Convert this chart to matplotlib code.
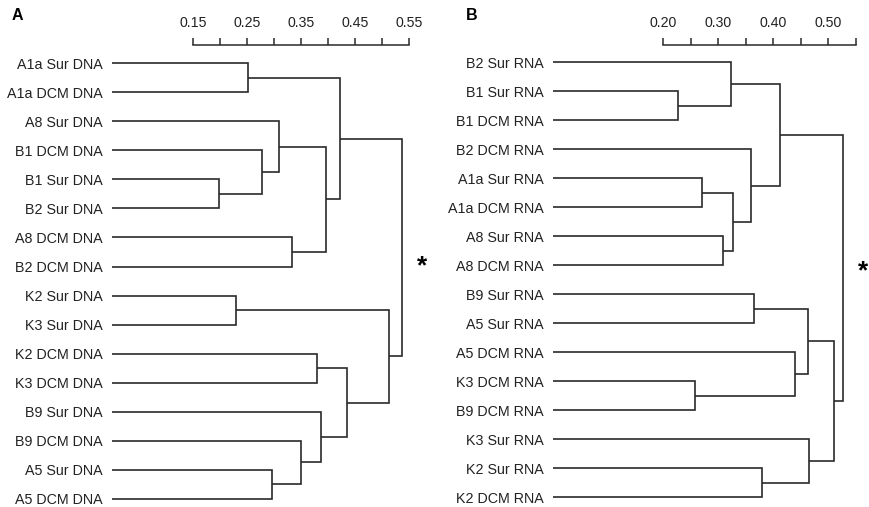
import matplotlib
matplotlib.use("Agg")
import matplotlib.pyplot as plt
import numpy as np

plt.rcParams['font.family'] = ['Liberation Sans', 'DejaVu Sans']

# ---------------- data ----------------
leaves_a = ["A1a Sur DNA", "A1a DCM DNA", "A8 Sur DNA", "B1 DCM DNA", "B1 Sur DNA",
            "B2 Sur DNA", "A8 DCM DNA", "B2 DCM DNA", "K2 Sur DNA", "K3 Sur DNA",
            "K2 DCM DNA", "K3 DCM DNA", "B9 Sur DNA", "B9 DCM DNA", "A5 Sur DNA",
            "A5 DCM DNA"]
# merges: (child1, child2, height); new nodes numbered from len(leaves)
merges_a = [(4, 5, 0.198), (0, 1, 0.251), (3, 16, 0.278), (2, 18, 0.308),
            (6, 7, 0.333), (19, 20, 0.396), (17, 21, 0.422), (8, 9, 0.229),
            (14, 15, 0.296), (13, 24, 0.350), (10, 11, 0.379), (12, 25, 0.386),
            (26, 27, 0.435), (23, 28, 0.512), (22, 29, 0.536)]

leaves_b = ["B2 Sur RNA", "B1 Sur RNA", "B1 DCM RNA", "B2 DCM RNA", "A1a Sur RNA",
            "A1a DCM RNA", "A8 Sur RNA", "A8 DCM RNA", "B9 Sur RNA", "A5 Sur RNA",
            "A5 DCM RNA", "K3 DCM RNA", "B9 DCM RNA", "K3 Sur RNA", "K2 Sur RNA",
            "K2 DCM RNA"]
merges_b = [(1, 2, 0.227), (0, 16, 0.323), (4, 5, 0.270), (6, 7, 0.308),
            (18, 19, 0.326), (3, 20, 0.360), (17, 21, 0.412), (11, 12, 0.257),
            (8, 9, 0.365), (10, 23, 0.440), (24, 25, 0.463), (14, 15, 0.379),
            (13, 27, 0.465), (26, 28, 0.510), (22, 29, 0.526)]

ticks_a = [0.15, 0.20, 0.25, 0.30, 0.35, 0.40, 0.45, 0.50, 0.55]
ticklabels_a = ["0.15", "", "0.25", "", "0.35", "", "0.45", "", "0.55"]
ticks_b = [0.20, 0.25, 0.30, 0.35, 0.40, 0.45, 0.50, 0.55]
ticklabels_b = ["0.20", "", "0.30", "", "0.40", "", "0.50", ""]

# ---------------- figure ----------------
W, H = 870, 507
fig = plt.figure(figsize=(W / 100, H / 100), dpi=100)
LC = "#2a2a2a"


def px_axes(left, top, right, bottom):
    return fig.add_axes([left / W, 1 - bottom / H, (right - left) / W, (bottom - top) / H])


def draw_tree(ax, leaves, merges):
    n = len(leaves)
    ypos = {i: float(i) for i in range(n)}
    hpos = {i: 0.0 for i in range(n)}
    for k, (a, b, h) in enumerate(merges):
        node = n + k
        ax.plot([hpos[a], h, h, hpos[b]], [ypos[a], ypos[a], ypos[b], ypos[b]],
                color=LC, lw=1.2, solid_joinstyle='miter', solid_capstyle='butt')
        ypos[node] = (ypos[a] + ypos[b]) / 2
        hpos[node] = h
    return ypos, hpos


def setup(ax, leaves, ticks, ticklabels, xmax, y0px, dy):
    top_idx = (45 - y0px) / dy
    bot_idx = (507 - y0px) / dy
    ax.set_ylim(bot_idx, top_idx)
    ax.set_xlim(0, xmax)
    for s in ["left", "right", "bottom"]:
        ax.spines[s].set_visible(False)
    ax.spines["top"].set_bounds(ticks[0], ticks[-1])
    ax.spines["top"].set_linewidth(1.1)
    ax.spines["top"].set_color(LC)
    ax.xaxis.set_ticks_position("top")
    ax.set_xticks(ticks)
    ax.set_xticklabels(ticklabels)
    ax.tick_params(axis="x", direction="out", length=5, width=1.1, color=LC,
                   pad=6, labelsize=10.2, labelcolor="#222222")
    ax.set_yticks(range(len(leaves)))
    ax.set_yticklabels(leaves)
    ax.tick_params(axis="y", length=0, pad=7, labelsize=10.3, labelcolor="#222222")
    ax.patch.set_alpha(0)


# Panel A
axA = px_axes(112.3, 45, 440, 507)
draw_tree(axA, leaves_a, merges_a)
setup(axA, leaves_a, ticks_a, ticklabels_a, (440 - 112.3) / 540.0, 63.3, 29.03)

# Panel B
axB = px_axes(553.4, 45, 869, 507)
draw_tree(axB, leaves_b, merges_b)
setup(axB, leaves_b, ticks_b, ticklabels_b, (869 - 553.4) / 549.7, 62.3, 29.0)

# significance asterisks and panel letters
fig.text(422 / W, 1 - 266 / H, "*", fontsize=19, fontweight="bold", ha="center", va="center")
fig.text(863 / W, 1 - 271 / H, "*", fontsize=19, fontweight="bold", ha="center", va="center")
fig.text(17 / W, 1 - 15 / H, "A", fontsize=11.5, fontweight="bold", ha="center", va="center")
fig.text(472 / W, 1 - 15 / H, "B", fontsize=11.5, fontweight="bold", ha="center", va="center")

fig.savefig("out.png", dpi=100, facecolor="white")
